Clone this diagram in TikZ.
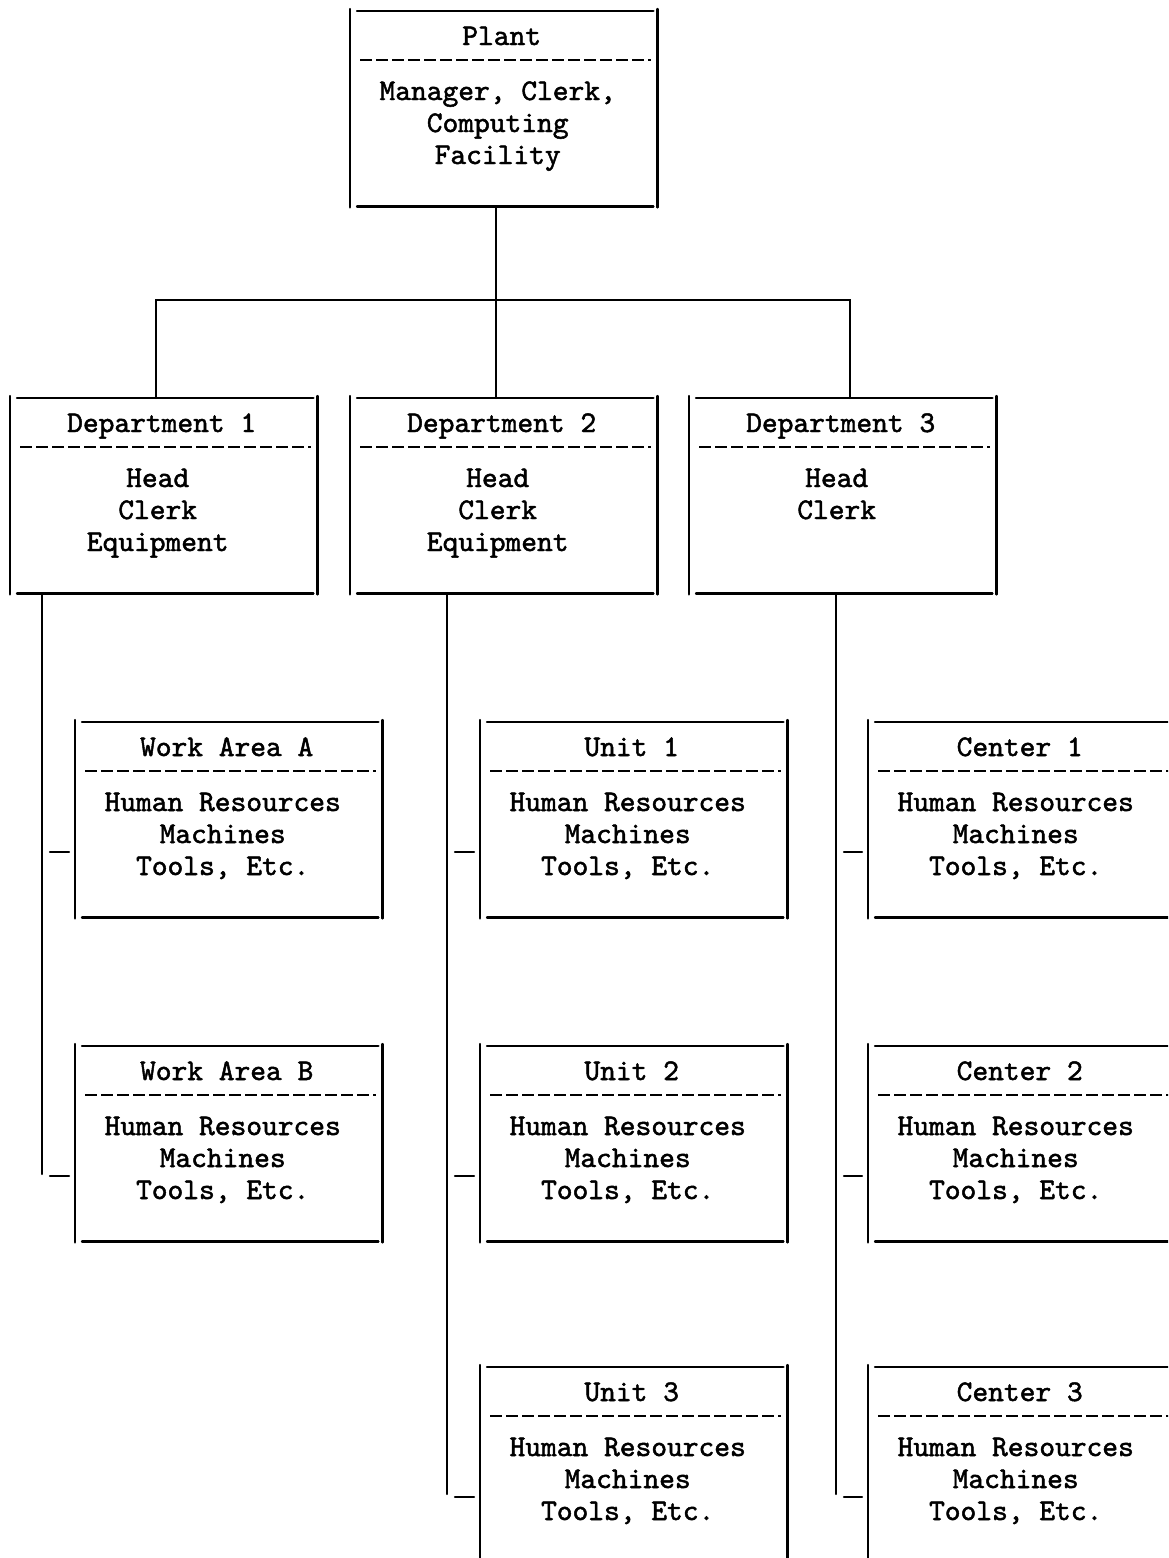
\documentclass[tikz,border=0pt]{standalone}
\usepackage{fontspec}
\usetikzlibrary{calc}
% typewriter face used for every label
\newfontfamily\typew{lmmono10-regular}[Extension=.otf, FakeBold=1.6]

\tikzset{
  ink/.style={line width=2.4pt, black, line cap=round},
  dashrule/.style={line width=2.6pt, black, dash pattern=on 12pt off 4pt},
  unitbox/.style={rectangle, inner sep=0pt, minimum width=307pt,
                  minimum height=195pt, draw=none},
  typed/.style={font=\typew\fontsize{30}{32}\selectfont, inner sep=0pt,
                anchor=base, text=black},
}

% #1 name, #2 left x, #3 top y, #4 heading, #5 list of body lines
\newcommand\typedbox[5]{%
  \node[unitbox, anchor=north west] (#1) at (#2,#3) {};
  \draw[ink] ([yshift=2pt]#1.north west) -- ([yshift=-1pt]#1.south west);
  \draw[ink] ([yshift=2pt]#1.north east) -- ([yshift=-1pt]#1.south east);
  \draw[ink] ([xshift=7pt]#1.north west) -- ([xshift=-4pt]#1.north east);
  \draw[ink] ([xshift=7pt]#1.south west) -- ([xshift=-4pt]#1.south east);
  \draw[dashrule] ([xshift=10pt,yshift=-49pt]#1.north west)
                  -- ([xshift=-6pt,yshift=-49pt]#1.north east);
  \node[typed] (#1-head) at ([xshift=-2pt,yshift=-34pt]#1.north) {#4};
  \foreach \ln [count=\k] in {#5}
    \node[typed] (#1-line\k) at ([xshift=-6pt,yshift={-89pt-32pt*(\k-1)}]#1.north) {\ln};
  \coordinate (#1-tap) at ([yshift=-130pt]#1.north west);
}

\begin{document}
\begin{tikzpicture}[x=1pt, y=-1pt]
  \useasboundingbox (0,0) rectangle (1168,1558);
  \fill[white] (0,0) rectangle (1168,1558);
  \clip (0,0) rectangle (1168,1558);

  % top level
  \typedbox{plant}{350}{11}{Plant}{{Manager, Clerk,},Computing,Facility}

  % departments
  \typedbox{d1}{10}{398}{Department 1}{Head,Clerk,Equipment}
  \typedbox{d2}{350}{398}{Department 2}{Head,Clerk,Equipment}
  \typedbox{d3}{689}{398}{Department 3}{Head,Clerk}

  % work areas, units and centers
  \typedbox{wa}{75}{722}{Work Area A}{Human Resources,Machines,{Tools, Etc.}}
  \typedbox{wb}{75}{1046}{Work Area B}{Human Resources,Machines,{Tools, Etc.}}
  \typedbox{u1}{480}{722}{Unit 1}{Human Resources,Machines,{Tools, Etc.}}
  \typedbox{u2}{480}{1046}{Unit 2}{Human Resources,Machines,{Tools, Etc.}}
  \typedbox{u3}{480}{1367}{Unit 3}{Human Resources,Machines,{Tools, Etc.}}
  \typedbox{c1}{868}{722}{Center 1}{Human Resources,Machines,{Tools, Etc.}}
  \typedbox{c2}{868}{1046}{Center 2}{Human Resources,Machines,{Tools, Etc.}}
  \typedbox{c3}{868}{1367}{Center 3}{Human Resources,Machines,{Tools, Etc.}}

  % plant to departments
  \coordinate (bus) at (496,300);
  \draw[ink] (plant.south -| bus) -- (d2.north -| bus);
  \draw[ink] ([xshift=-8pt]d1.north) |- ([xshift=7pt]d3.north |- bus)
             -- ([xshift=7pt]d3.north);

  % department spines
  \coordinate (sp1) at (42,0);
  \coordinate (sp2) at (447,0);
  \coordinate (sp3) at (836,0);
  \draw[ink] (d1.south -| sp1) -- ($(wb-tap -| sp1)+(0,-2)$);
  \draw[ink] (d2.south -| sp2) -- ($(u3-tap -| sp2)+(0,-3)$);
  \draw[ink] (d3.south -| sp3) -- ($(c3-tap -| sp3)+(0,-3)$);

  % short taps into each box
  \foreach \b/\s in {wa/sp1, wb/sp1, u1/sp2, u2/sp2, u3/sp2, c1/sp3, c2/sp3, c3/sp3}
    \draw[ink] ($(\b-tap -| \s)+(8,0)$) -- ($(\b-tap)+(-6,0)$);
\end{tikzpicture}
\end{document}
